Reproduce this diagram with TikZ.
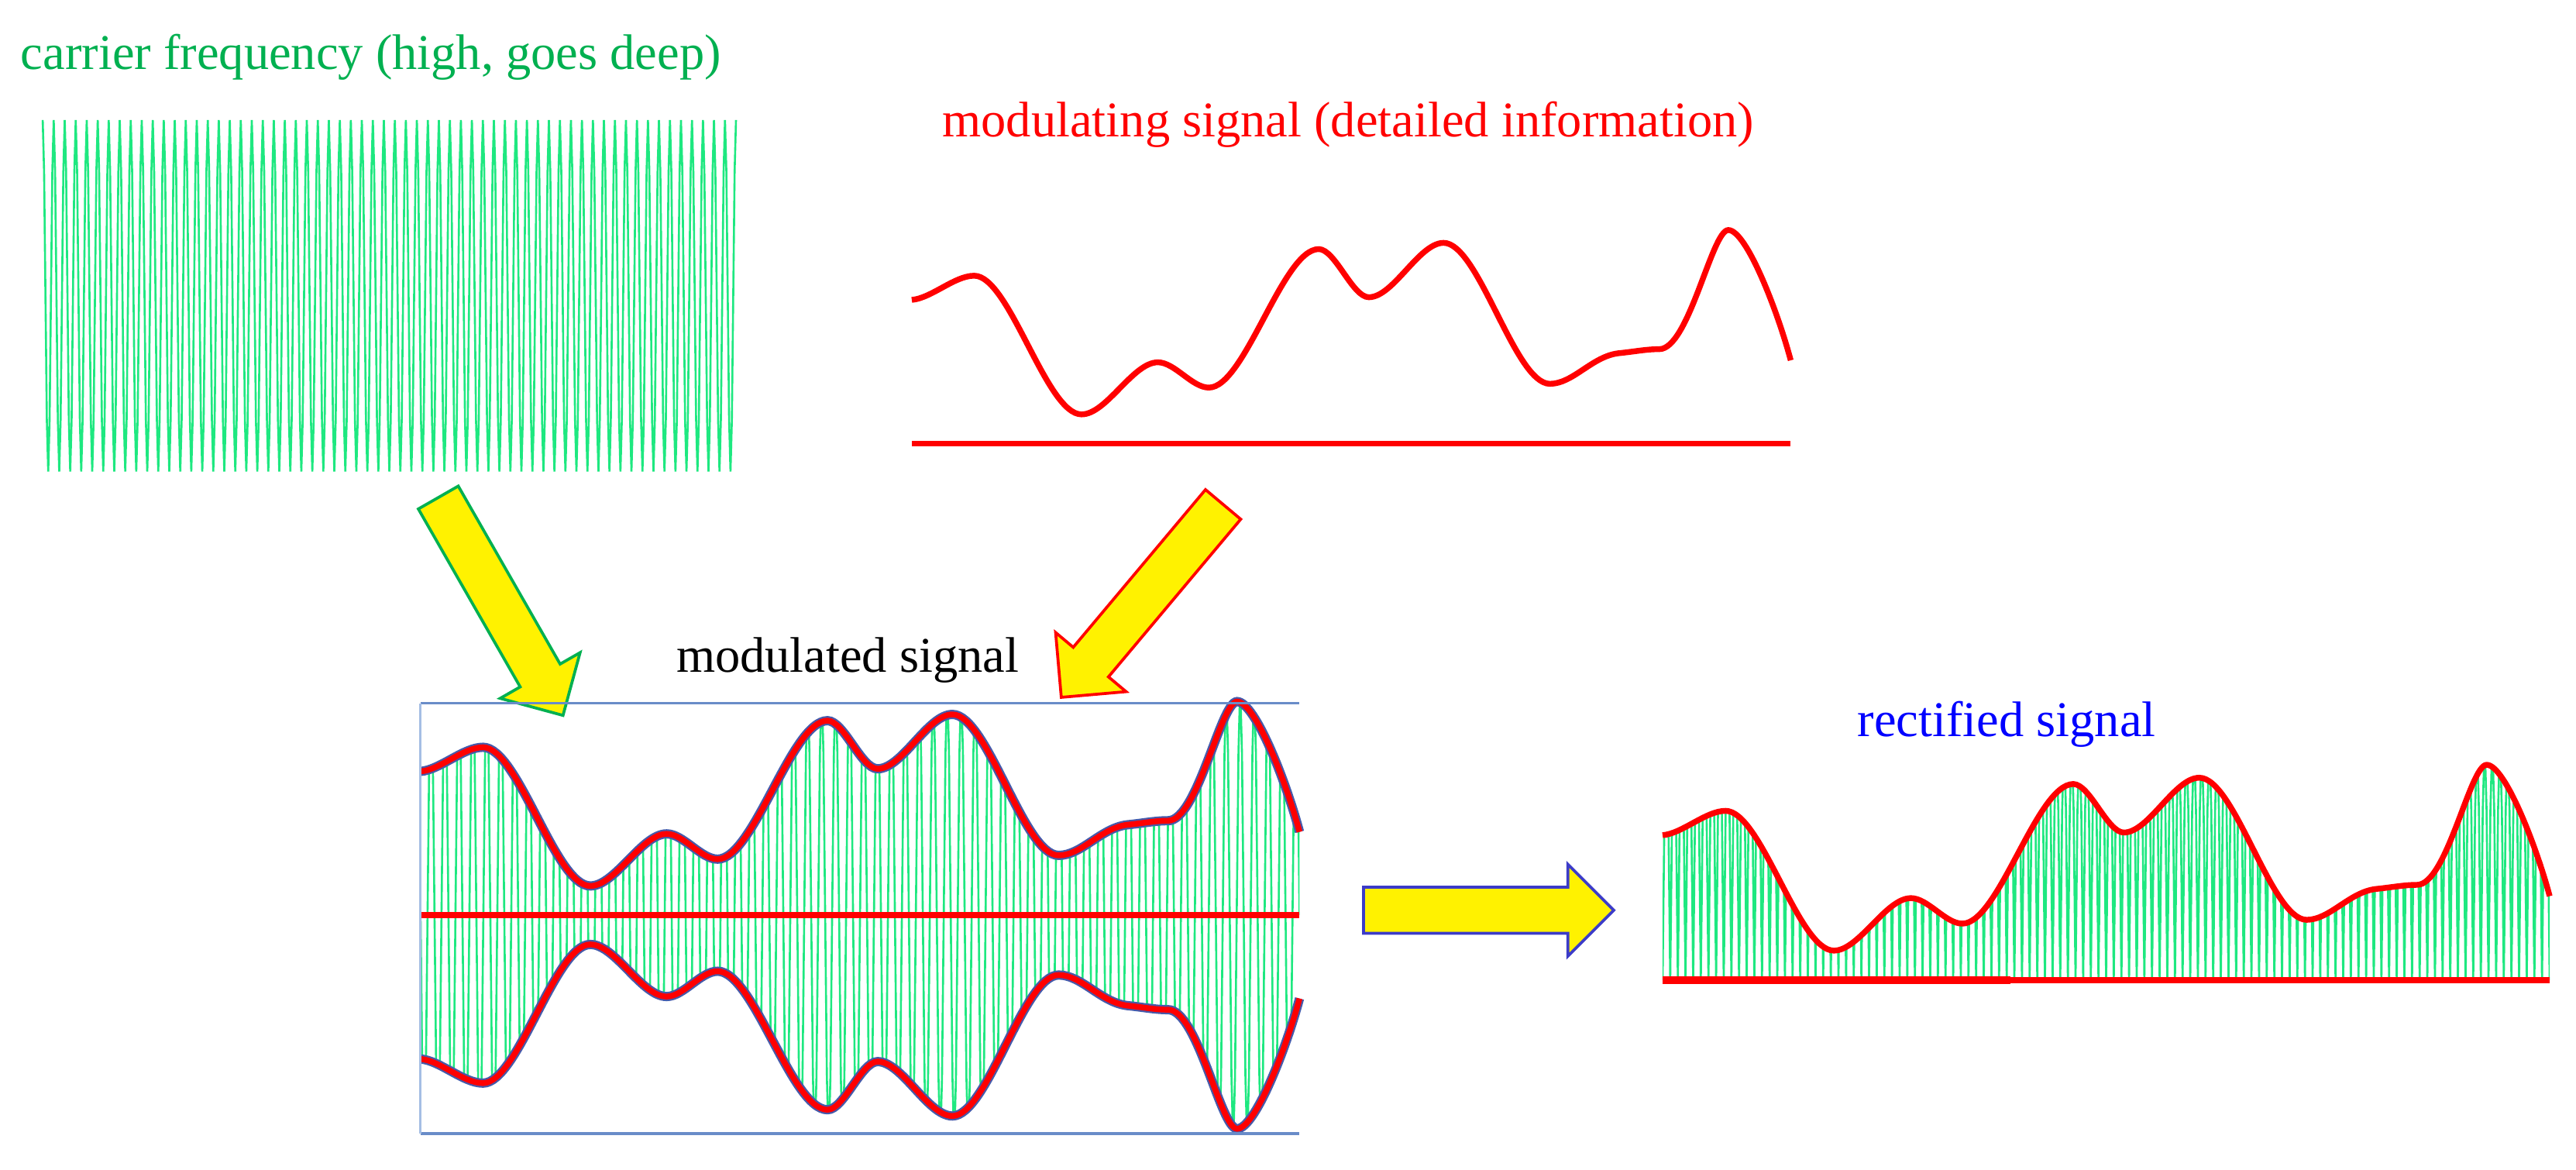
\documentclass[tikz,border=0pt]{standalone}
\usepackage{fontspec}
\setmainfont{Liberation Serif}
\usetikzlibrary{calc}

\definecolor{wavegreen}{RGB}{30,232,128}
\definecolor{labelgreen}{RGB}{0,176,80}
\definecolor{boxblue}{RGB}{105,140,200}
\definecolor{boxpale}{RGB}{165,190,228}
\definecolor{halo}{RGB}{70,90,170}
\definecolor{arrowblue}{RGB}{60,60,200}

% block arrow from tail #1 to tip #2
\newcommand{\blockarrow}[3]{%
  \coordinate (hb) at ($(#2)!2.8mm!(#1)$);
  \draw[#3] ($(#1)!1.4mm!90:(#2)$) -- ($(hb)!1.4mm!-90:(#1)$) -- ($(hb)!2.8mm!-90:(#1)$)
    -- (#2) -- ($(hb)!2.8mm!90:(#1)$) -- ($(hb)!1.4mm!90:(#1)$) -- ($(#1)!1.4mm!-90:(#2)$) -- cycle;}

% the information signal, 535 wide, 130 high, baseline at 0
\def\envpath{(0,-87.5) .. controls (12,-88.5) and (26,-102.2) .. (38,-102.2)
  .. controls (59.5,-102.2) and (81.8,-17.8) .. (103.3,-17.8)
  .. controls (118.6,-17.8) and (134.5,-49.5) .. (149.8,-49.5)
  .. controls (160,-49.5) and (170.6,-34.1) .. (180.8,-34.1)
  .. controls (202.8,-34.1) and (225.7,-118.4) .. (247.7,-118.4)
  .. controls (257.7,-118.4) and (268.2,-89.1) .. (278.2,-89.1)
  .. controls (293.2,-89.1) and (308.7,-122.2) .. (323.7,-122.2)
  .. controls (345.1,-122.2) and (367,-36.4) .. (388.4,-36.4)
  .. controls (402.4,-36.4) and (414,-53) .. (430,-55)
  .. controls (440,-56) and (447,-57.5) .. (455,-57.5)
  .. controls (473,-57.5) and (487,-130) .. (497,-130)
  .. controls (508,-130) and (527,-80.7) .. (535,-50.7)}
\def\carrierpath{plot[domain=0:504, samples=505] ({0.8373*\x}, {-107*cos(45*mod(\x,8))})}
\def\modpath{plot[domain=0:504, samples=505] ({1.06151*\x}, {-140*sin(45*mod(\x,8))})}
\def\rectpath{plot[domain=0:464, samples=465] ({1.15302*\x}, {-145*abs(sin(45*mod(\x,8)))})}

\begin{document}
\begin{tikzpicture}[x=0.1mm, y=-0.1mm,
    wave/.style={wavegreen, line width=0.35pt},
    signal/.style={red, line width=1pt},
    zeroline/.style={red, line width=1pt},
    envhalo/.style={halo, line width=1.6pt},
    boxline/.style={boxblue, line width=0.5pt},
    sigtext/.style={inner sep=0pt, anchor=base west, font=\fontsize{8.65}{10}\selectfont},
    yellowarrow/.style={fill=yellow, draw=#1, line width=0.5pt}]

  \useasboundingbox (0,0) rectangle (1568,712);

  % carrier
  \node[sigtext, labelgreen] (carrierlabel) at (12,42) {carrier frequency (high, goes deep)};
  \begin{scope}[shift={(26,180)}]
    \draw[wave] \carrierpath;
  \end{scope}

  % modulating signal
  \node[sigtext, red] (modinglabel) at (573,83) {modulating signal (detailed information)};
  \begin{scope}[shift={(555,270)}]
    \draw[signal] \envpath;
    \draw[zeroline] (0,0) -- (535,0);
  \end{scope}

  \coordinate (carT) at (266.8,302.8);
  \coordinate (carP) at (342.7,435.4);
  \coordinate (modT) at (744.5,307);
  \coordinate (modP) at (646,424.4);
  \coordinate (outT) at (830,554);
  \coordinate (outP) at (982.3,554);

  \blockarrow{carT}{carP}{yellowarrow=labelgreen}
  \blockarrow{modT}{modP}{yellowarrow=red}

  % modulated signal
  \node[sigtext] (modedlabel) at (411,409) {modulated signal};
  \begin{scope}[shift={(256,557)}]
    \begin{scope}
      \clip \envpath -- (535,140) -- (0,140) -- cycle;
      \begin{scope}[yscale=-1]
        \clip \envpath -- (535,140) -- (0,140) -- cycle;
        \draw[wave] \modpath;
      \end{scope}
    \end{scope}
    \draw[zeroline] (0,0) -- (535,0);
    \draw[envhalo] \envpath;
    \draw[signal] \envpath;
    \begin{scope}[yscale=-1]
      \draw[envhalo] \envpath;
      \draw[signal] \envpath;
    \end{scope}
  \end{scope}
  \draw[boxline] (256,428) -- (791,428);
  \draw[boxline] (256,690) -- (791,690);
  \draw[boxpale, line width=0.4pt] (256,428) -- (256,690);

  \blockarrow{outT}{outP}{yellowarrow=arrowblue}

  % rectified signal
  \node[sigtext, blue] (rectlabel) at (1130,448) {rectified signal};
  \begin{scope}[shift={(1012,596.5)}, xscale=1.0093, yscale=1.008]
    \begin{scope}
      \clip \envpath -- (535,0) -- (0,0) -- cycle;
      \draw[wave] \rectpath;
    \end{scope}
    \draw[signal] \envpath;
    \draw[zeroline] (0,0) -- (535,0);
    \draw[zeroline, line width=1.4pt] (0,0) -- (210,0);
  \end{scope}
\end{tikzpicture}
\end{document}
